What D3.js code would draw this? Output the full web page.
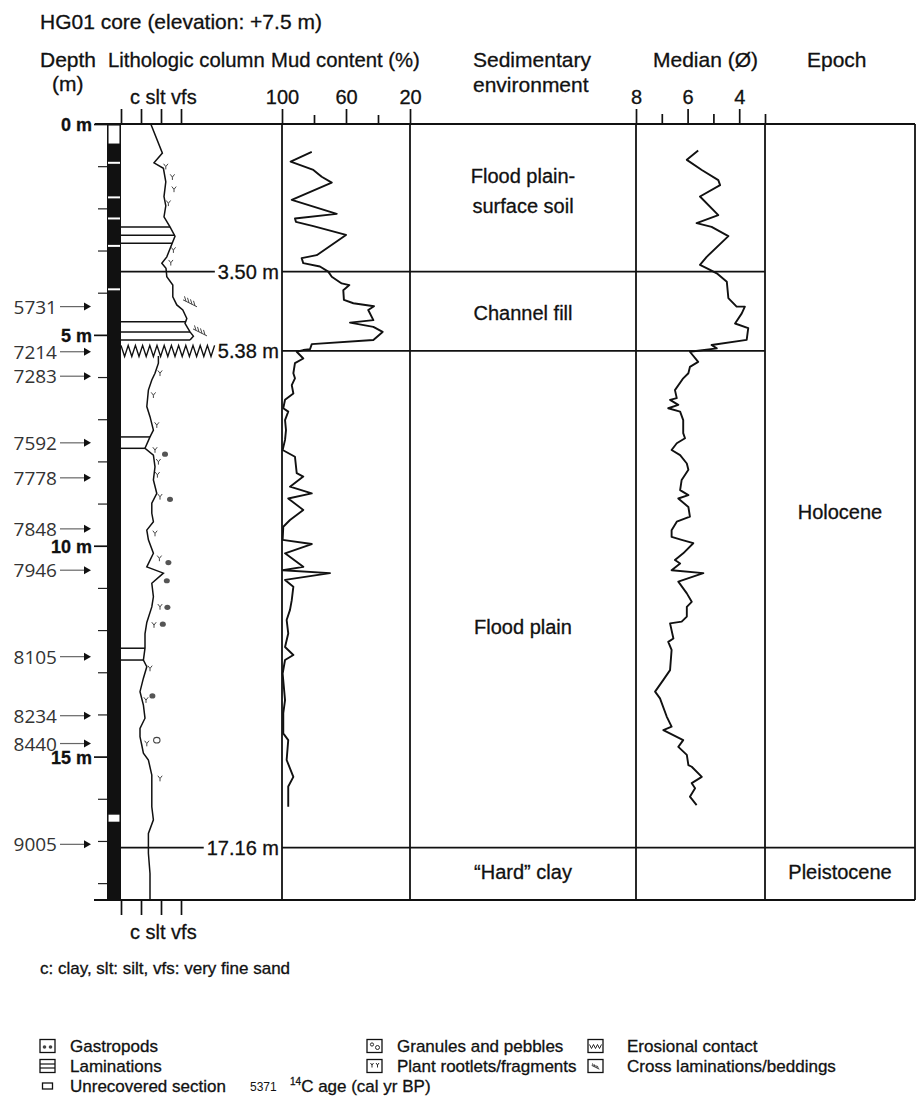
<!DOCTYPE html>
<html><head><meta charset="utf-8">
<script src="https://cdn.jsdelivr.net/npm/d3@7"></script>
<style>
body{margin:0;background:#fff}
svg text{font-family:'Liberation Sans',Arial,sans-serif;fill:#111;stroke:#111;stroke-width:0.3px}
</style>
</head><body>
<svg id="chart" width="917" height="1097"></svg>
<script>
// ---------------- data ----------------
const depthTickValues = [0,1,2,3,4,5,6,7,8,9,10,11,12,13,14,15,16,17,18];
const depthLabelValues = [0,5,10,15];
const grainTicks = [0,1,2,3];
const grainLabels = ['c','slt','vfs'];
const mudTicks = [100,80,60,40,20];
const mudLabels = [100,60,20];
const medianTicks = [8,7,6,5,4,3];
const medianLabels = [8,6,4];

const mudDepth = [0.66,0.89,1.09,1.25,1.39,1.80,2.13,2.24,2.32,2.42,2.63,3.11,3.18,3.30,3.38,3.50,3.62,3.78,3.82,3.94,4.17,4.25,4.32,4.41,4.65,4.71,4.81,4.93,5.12,5.22,5.34,5.36,5.40,5.56,5.67,5.91,6.03,6.19,6.39,6.54,6.74,6.82,7.02,7.26,7.49,7.73,7.89,8.28,8.36,8.60,8.76,8.88,9.15,9.39,9.55,9.86,9.96,10.18,10.50,10.58,10.65,10.81,10.97,11.29,11.52,11.76,12.08,12.40,12.59,12.71,13.03,13.66,13.97,14.45,14.61,15.08,15.48,15.71,15.95,16.19];
const mudValue = [81.4,94.6,80.4,75.2,68.9,93.9,65.8,91.9,91.3,80.4,60.0,78.3,87.7,86.7,76.3,71.1,68.9,62.7,57.9,61.7,61.3,55.4,42.5,46.1,42.9,57.5,42.9,37.1,42.9,81.4,82.5,86.7,90.8,86.7,91.9,92.9,91.9,93.9,92.9,98.1,99.2,96.1,98.1,97.5,98.1,99.6,91.9,90.8,86.7,95.0,81.4,96.1,86.7,95.0,99.2,99.6,81.4,98.1,86.7,99.6,70.0,98.1,92.9,93.9,95.0,97.1,96.1,98.1,92.9,98.1,99.6,98.1,99.2,99.2,96.1,97.1,92.9,96.1,96.1,96.1];

const medianDepth = [0.63,0.85,1.09,1.33,1.45,1.72,2.16,2.35,2.44,2.66,3.15,3.34,3.46,3.54,3.74,4.13,4.33,4.33,4.49,4.73,4.84,5.12,5.24,5.32,5.40,5.64,5.76,5.91,6.03,6.31,6.50,6.54,6.66,6.74,6.82,7.02,7.33,7.45,7.57,7.73,7.85,8.05,8.20,8.44,8.68,8.80,8.88,9.08,9.31,9.43,9.63,9.79,9.86,9.94,10.18,10.34,10.42,10.58,10.65,10.85,11.13,11.33,11.45,11.68,11.80,11.84,12.20,12.28,12.47,12.95,13.18,13.46,13.62,14.05,14.29,14.37,14.61,14.77,14.96,15.20,15.24,15.48,15.63,15.75,15.95,16.15];
const medianValue = [5.59,6.03,5.45,4.81,4.74,5.52,4.81,5.65,5.07,4.42,5.26,5.52,5.13,4.87,4.48,4.42,4.10,3.78,3.90,4.16,3.65,3.71,5.07,4.87,5.91,5.59,5.91,5.97,6.17,6.49,6.42,6.68,6.36,6.75,6.29,6.17,6.17,6.10,6.42,6.62,6.29,6.03,5.97,6.23,6.29,5.97,6.36,5.97,5.91,6.42,6.62,6.62,6.23,5.78,6.17,6.49,6.29,6.62,5.39,6.36,6.03,5.84,6.03,6.03,6.23,6.68,6.55,6.75,6.62,6.68,6.94,7.26,7.07,6.81,6.62,6.94,6.17,6.36,6.03,5.97,5.84,5.45,5.84,5.71,5.91,5.65];

// grain-size curve (0 = column edge, 1 = clay, 2 = silt, 3 = very fine sand)
const grainUpperDepth = [0.00,0.69,0.92,1.05,1.37,1.72,1.94,2.20,2.44,2.66,2.91,3.15,3.30,3.42,3.62,3.82,4.10,4.29,4.41,4.61,4.73,4.93,5.03,5.12];
const grainUpperValue = [1.49,2.07,1.65,2.12,2.24,2.15,2.24,2.15,2.45,2.70,2.49,2.29,2.04,2.25,2.29,2.59,2.59,2.79,3.09,3.29,3.20,3.45,3.62,3.45];
const grainLowerDepth = [5.50,5.67,5.91,6.07,6.31,6.70,6.94,7.26,7.42,7.69,7.85,8.13,8.44,8.76,8.99,9.23,9.43,9.63,9.86,10.18,10.50,10.65,10.89,11.21,11.45,11.82,12.09,12.43,12.71,12.87,13.14,13.46,13.78,14.09,14.33,14.53,14.73,14.92,15.08,15.44,15.71,16.19,16.50,16.82,17.29,17.77,18.40];
const grainLowerValue = [1.87,1.87,1.70,1.54,1.37,1.29,1.45,1.62,1.45,1.20,1.62,1.70,1.62,1.79,1.54,1.54,1.62,1.29,1.37,1.62,1.29,2.12,1.54,1.62,1.54,1.29,1.20,1.20,1.12,1.29,1.12,0.95,1.12,1.20,0.95,0.95,1.04,1.12,1.37,1.54,1.54,1.54,1.62,1.37,1.37,1.45,1.45];

const laminationDepth = [2.44,2.64,2.83,4.69,4.93,5.12,7.42,7.69,12.43,12.71];
const rootletDepth = [1.01,1.26,1.55,1.88,2.99,3.29,5.91,6.43,7.14,7.73,8.01,8.32,8.84,9.71,10.30,11.45,11.88,12.91,13.66,14.69,15.52];
const rootletGrain = [2.24,2.57,2.65,2.37,2.62,2.49,1.95,1.62,1.79,1.70,1.87,1.82,1.95,1.70,1.92,1.95,1.65,1.45,1.25,1.29,1.95];
const gastropodDepth = [7.83,8.90,10.40,10.83,11.46,11.86,13.56];
const gastropodGrain = [2.20,2.45,2.37,2.29,2.32,2.09,1.57];
const pebbleDepth = [14.61];
const pebbleGrain = [1.79];
const crossLamDepth = [4.24,4.93];
const crossLamGrain = [3.45,3.95];
const erosionDepth = 5.38;

const coreBreakDepth = [0.92,1.74,2.24,2.89,3.92];
const unrecoveredTop = [0, 16.34];
const unrecoveredBottom = [0.5, 16.58];

const ageLabels = ['5731','7214','7283','7592','7778','7848','7946','8105','8234','8440','9005'];
const ageDepth = [4.33,5.40,5.98,7.56,8.39,9.60,10.58,12.63,14.03,14.69,17.08];

const boundaryDepth = [3.50,5.38,17.16];
const boundaryLabel = ['3.50 m','5.38 m','17.16 m'];

const envLabels = [['Flood plain-','surface soil'],['Channel fill'],['Flood plain'],['\u201CHard\u201D clay']];
const envDepth = [1.59,4.48,11.93,17.74];
const epochLabels = ['Holocene','Pleistocene'];
const epochDepth = [9.2,17.74];

const legendCol1 = ['Gastropods','Laminations','Unrecovered section'];
const legendCol2 = ['Granules and pebbles','Plant rootlets/fragments'];
const legendCol3 = ['Erosional contact','Cross laminations/beddings'];
const legendAgeExample = '5371';

// ---------------- drawing ----------------
const svg = d3.select('#chart');
const ink = '#111';
const y = d3.scaleLinear().domain([0,18.4]).range([124,900]);
const xg = d3.scaleLinear().domain([0,3]).range([121,181]);
const xm = d3.scaleLinear().domain([100,20]).range([282,410]);
const xd = d3.scaleLinear().domain([8,3]).range([636,765]);
const zip = (a,b) => a.map((d,i)=>({d:d, v:b[i]}));

function styleAxis(g,size){
  g.select('.domain').remove();
  g.attr('font-family',null).attr('font-size',null);
  g.selectAll('line').attr('stroke',ink).attr('stroke-width',1.7);
  g.selectAll('text').attr('font-size',size).attr('fill',ink);
}

// titles
const H = 21;
svg.append('text').attr('x',40).attr('y',29).attr('font-size',H).text('HG01 core (elevation: +7.5 m)');
svg.append('text').attr('x',40).attr('y',67).attr('font-size',H).text('Depth');
svg.append('text').attr('x',52).attr('y',91).attr('font-size',H).text('(m)');
svg.append('text').attr('x',108).attr('y',67).attr('font-size',20.3).text('Lithologic column');
svg.append('text').attr('x',271).attr('y',67).attr('font-size',20.3).text('Mud content (%)');
svg.append('text').attr('x',473).attr('y',67).attr('font-size',H).text('Sedimentary');
svg.append('text').attr('x',473).attr('y',92).attr('font-size',H).text('environment');
svg.append('text').attr('x',653).attr('y',67).attr('font-size',H).text('Median (\u00D8)');
svg.append('text').attr('x',807).attr('y',67).attr('font-size',H).text('Epoch');

// core bar
svg.append('rect').attr('x',107).attr('y',y(0)).attr('width',14).attr('height',y(18.4)-y(0)).attr('fill',ink);
svg.selectAll('.brk').data(coreBreakDepth).join('line')
  .attr('x1',108).attr('x2',120).attr('y1',d=>y(d)).attr('y2',d=>y(d))
  .attr('stroke','#fff').attr('stroke-width',2);
svg.selectAll('.unrec').data(unrecoveredTop).join('rect')
  .attr('x',107.8).attr('width',12.4)
  .attr('y',(d)=>y(d)+0.8).attr('height',(d,i)=>y(unrecoveredBottom[i])-y(d)-1.6)
  .attr('fill','#fff').attr('stroke',ink).attr('stroke-width',1.5);

// depth axis
const depthAxis = d3.axisLeft(y).tickValues(depthTickValues).tickSize(9).tickPadding(4)
  .tickFormat(d => depthLabelValues.includes(d) ? d + ' m' : '');
svg.append('g').attr('transform','translate(107,0)').call(depthAxis).call(g=>{
  styleAxis(g,18);
  g.selectAll('line').attr('stroke','#222').attr('stroke-width',1.2);
  g.selectAll('.tick').filter(d=>depthLabelValues.includes(d)).select('line').attr('x2',-13).attr('stroke',ink).attr('stroke-width',1.7);
  g.selectAll('.tick text').attr('x',-15).attr('dy','0.36em').attr('font-weight','bold');
});

// grain axes (top and bottom)
const gTop = d3.axisTop(xg).tickValues(grainTicks).tickSize(15).tickFormat('');
svg.append('g').attr('transform','translate(0,124)').call(gTop).call(g=>styleAxis(g,20));
const gBot = d3.axisBottom(xg).tickValues(grainTicks).tickSize(15).tickFormat('');
svg.append('g').attr('transform','translate(0,900)').call(gBot).call(g=>styleAxis(g,20));
svg.append('text').attr('x',xg(1)-11).attr('y',104).attr('font-size',20).text(grainLabels.join(' '));
svg.append('text').attr('x',xg(1)-11).attr('y',939).attr('font-size',20).text(grainLabels.join(' '));

// mud axis
const mudAxis = d3.axisTop(xm).tickValues(mudTicks).tickSize(15).tickPadding(5)
  .tickFormat(d => mudLabels.includes(d) ? d : '');
svg.append('g').attr('transform','translate(0,124)').call(mudAxis).call(g=>{
  styleAxis(g,20);
  g.selectAll('.tick').filter(d=>!mudLabels.includes(d)).select('line').attr('y2',-9);
});

// median axis
const medAxis = d3.axisTop(xd).tickValues(medianTicks).tickSize(15).tickPadding(5)
  .tickFormat(d => medianLabels.includes(d) ? d : '');
svg.append('g').attr('transform','translate(0,124)').call(medAxis).call(g=>{
  styleAxis(g,20);
  g.selectAll('.tick').filter(d=>!medianLabels.includes(d)).select('line').attr('y2',-10);
});

// frame
const frame = svg.append('g').attr('stroke',ink).attr('stroke-width',1.8);
frame.append('line').attr('x1',95).attr('x2',915).attr('y1',y(0)).attr('y2',y(0));
frame.append('line').attr('x1',94).attr('x2',915).attr('y1',y(18.4)).attr('y2',y(18.4));
[xm(100), xm(20), xd(8), xd(3), 915].forEach(x=>{
  frame.append('line').attr('x1',x).attr('x2',x).attr('y1',y(0)).attr('y2',y(18.4));
});

// boundaries
boundaryDepth.forEach((bd,i)=>{
  const yy = y(bd);
  const t = svg.append('text').attr('x',279).attr('y',yy+7).attr('text-anchor','end').attr('font-size',20).text(boundaryLabel[i]);
  const w = t.node().getComputedTextLength();
  const right = bd > 17 ? 915 : xd(3);
  if (bd !== erosionDepth) frame.append('line').attr('x1',121).attr('x2',279-w-3).attr('y1',yy).attr('y2',yy);
  frame.append('line').attr('x1',xm(100)).attr('x2',right).attr('y1',yy).attr('y2',yy);
});

// erosional contact zigzag
const zz = d3.range(0,27).map(i=>[121+i*3.6, y(erosionDepth)+(i%2? 5.5 : -5.5)]);
svg.append('path').attr('d',d3.line()(zz)).attr('fill','none').attr('stroke',ink).attr('stroke-width',1.4);

// grain curve
const gLine = d3.line().x(p=>xg(p.v)).y(p=>y(p.d));
const upper = zip(grainUpperDepth, grainUpperValue);
const lower = zip(grainLowerDepth, grainLowerValue);
[upper, lower].forEach(seg=>{
  svg.append('path').datum(seg).attr('d',gLine).attr('fill','none').attr('stroke',ink).attr('stroke-width',1.5);
});
function grainAt(d){
  const seg = d < 5.3 ? upper : lower;
  const i = d3.bisector(p=>p.d).left(seg, d);
  if (i<=0) return seg[0].v;
  if (i>=seg.length) return seg[seg.length-1].v;
  const a = seg[i-1], b = seg[i];
  return a.v + (b.v-a.v)*(d-a.d)/(b.d-a.d);
}
svg.selectAll('.lam').data(laminationDepth).join('line')
  .attr('x1',121).attr('x2',d=>xg(grainAt(d))).attr('y1',d=>y(d)).attr('y2',d=>y(d))
  .attr('stroke',ink).attr('stroke-width',1.5);

// symbols
const symInk = '#444';
zip(rootletDepth, rootletGrain).forEach(p=>{
  const x = xg(p.v), yy = y(p.d);
  svg.append('path').attr('d',`M${x-2.2},${yy-2.8}L${x},${yy}L${x+2.2},${yy-2.8}M${x},${yy}L${x},${yy+2.8}`)
    .attr('fill','none').attr('stroke',symInk).attr('stroke-width',1);
});
zip(gastropodDepth, gastropodGrain).forEach(p=>{
  svg.append('ellipse').attr('cx',xg(p.v)).attr('cy',y(p.d)).attr('rx',3).attr('ry',2.6).attr('fill','#555');
});
zip(pebbleDepth, pebbleGrain).forEach(p=>{
  svg.append('ellipse').attr('cx',xg(p.v)).attr('cy',y(p.d)).attr('rx',3.2).attr('ry',2.8).attr('fill','none').attr('stroke',symInk).attr('stroke-width',1.1);
});
function crossLam(g, x, yy, s){
  let d = `M${x-7*s},${yy-3*s}L${x+7*s},${yy+4*s}`;
  [-4,-1,2,5].forEach(o=>{
    const px = x+o*s, py = yy+ (o/14)*7*s + 0.5*s;
    d += `M${px},${py}L${px-1.5*s},${py-5*s}`;
  });
  g.append('path').attr('d',d).attr('fill','none').attr('stroke',symInk).attr('stroke-width',1);
}
zip(crossLamDepth, crossLamGrain).forEach(p=> crossLam(svg, xg(p.v), y(p.d), 1));

// mud content curve
const mudLine = d3.line().x(p=>xm(p.v)).y(p=>y(p.d));
svg.append('path').datum(zip(mudDepth, mudValue)).attr('d',mudLine).attr('fill','none')
  .attr('stroke',ink).attr('stroke-width',1.9).attr('stroke-linejoin','round');

// median curve
const medLine = d3.line().x(p=>xd(p.v)).y(p=>y(p.d));
svg.append('path').datum(zip(medianDepth, medianValue)).attr('d',medLine).attr('fill','none')
  .attr('stroke',ink).attr('stroke-width',1.9).attr('stroke-linejoin','round');

// 14C ages
ageLabels.forEach((lab,i)=>{
  const yy = y(ageDepth[i]);
  svg.append('text').attr('x',57).attr('y',yy+7).attr('text-anchor','end')
    .attr('font-size',19).style('font-family',"'Open Sans',sans-serif").style('fill','#333').style('stroke','none').text(lab);
  svg.append('line').attr('x1',60).attr('x2',86).attr('y1',yy).attr('y2',yy).attr('stroke','#666').attr('stroke-width',1.2);
  svg.append('path').attr('d',`M84,${yy-4}L91,${yy}L84,${yy+4}Z`).attr('fill',ink);
});

// environment labels
const envX = (xm(20)+xd(8))/2;
envLabels.forEach((lines,i)=>{
  const cy = y(envDepth[i]) - (lines.length-1)*15;
  lines.forEach((ln,j)=>{
    svg.append('text').attr('x',envX).attr('y',cy + j*30 + 7).attr('text-anchor','middle').attr('font-size',20).text(ln);
  });
});
epochLabels.forEach((lab,i)=>{
  svg.append('text').attr('x',(xd(3)+915)/2).attr('y',y(epochDepth[i])+7).attr('text-anchor','middle').attr('font-size',20).text(lab);
});

// legend
svg.append('text').attr('x',40).attr('y',974).attr('font-size',17).text('c: clay, slt: silt, vfs: very fine sand');
const rowY = [1046,1066,1086];
const lg = svg.append('g');
function box(x,yc){ lg.append('rect').attr('x',x).attr('y',yc-6.5).attr('width',15).attr('height',13).attr('fill','#fff').attr('stroke',ink).attr('stroke-width',1.3); }
// col 1
box(40,rowY[0]);
lg.append('circle').attr('cx',44.5).attr('cy',rowY[0]+1).attr('r',1.8).attr('fill','#444');
lg.append('circle').attr('cx',50.5).attr('cy',rowY[0]+1).attr('r',1.8).attr('fill','#444');
box(40,rowY[1]);
lg.append('line').attr('x1',40).attr('x2',55).attr('y1',rowY[1]-2).attr('y2',rowY[1]-2).attr('stroke',ink).attr('stroke-width',1.2);
lg.append('line').attr('x1',40).attr('x2',55).attr('y1',rowY[1]+2).attr('y2',rowY[1]+2).attr('stroke',ink).attr('stroke-width',1.2);
lg.append('rect').attr('x',42.5).attr('y',rowY[2]-3).attr('width',10).attr('height',6).attr('fill','#fff').attr('stroke',ink).attr('stroke-width',1.3);
legendCol1.forEach((t,i)=> lg.append('text').attr('x',70).attr('y',rowY[i]+6).attr('font-size',17).text(t));
// col 2
box(367,rowY[0]);
lg.append('circle').attr('cx',372).attr('cy',rowY[0]-1.5).attr('r',1.6).attr('fill','none').attr('stroke',ink).attr('stroke-width',0.9);
lg.append('circle').attr('cx',377.5).attr('cy',rowY[0]+1.5).attr('r',2).attr('fill','none').attr('stroke',ink).attr('stroke-width',0.9);
box(367,rowY[1]);
[372,377.5].forEach(x=> lg.append('path').attr('d',`M${x-1.5},${rowY[1]-3}L${x},${rowY[1]-1}L${x+1.5},${rowY[1]-3}M${x},${rowY[1]-1}L${x},${rowY[1]+1.5}`).attr('fill','none').attr('stroke',ink).attr('stroke-width',0.9));
legendCol2.forEach((t,i)=> lg.append('text').attr('x',397).attr('y',rowY[i]+6).attr('font-size',17).text(t));
lg.append('text').attr('x',250).attr('y',rowY[2]+5).attr('font-size',12).style('stroke','none').text(legendAgeExample);
const cAge = lg.append('text').attr('x',290).attr('y',rowY[2]+6).attr('font-size',17);
cAge.append('tspan').attr('font-size',10).attr('dy',-7).text('14');
cAge.append('tspan').attr('dy',7).text('C age (cal yr BP)');
// col 3
box(588,rowY[0]);
const zl = d3.range(0,7).map(i=>[589.5+i*2, rowY[0]+(i%2? 2.5 : -1.5)]);
lg.append('path').attr('d',d3.line()(zl)).attr('fill','none').attr('stroke',ink).attr('stroke-width',0.9);
box(588,rowY[1]);
crossLam(lg, 595.5, rowY[1]+1, 0.55);
legendCol3.forEach((t,i)=> lg.append('text').attr('x',627).attr('y',rowY[i]+6).attr('font-size',17).text(t));
</script>
</body></html>
